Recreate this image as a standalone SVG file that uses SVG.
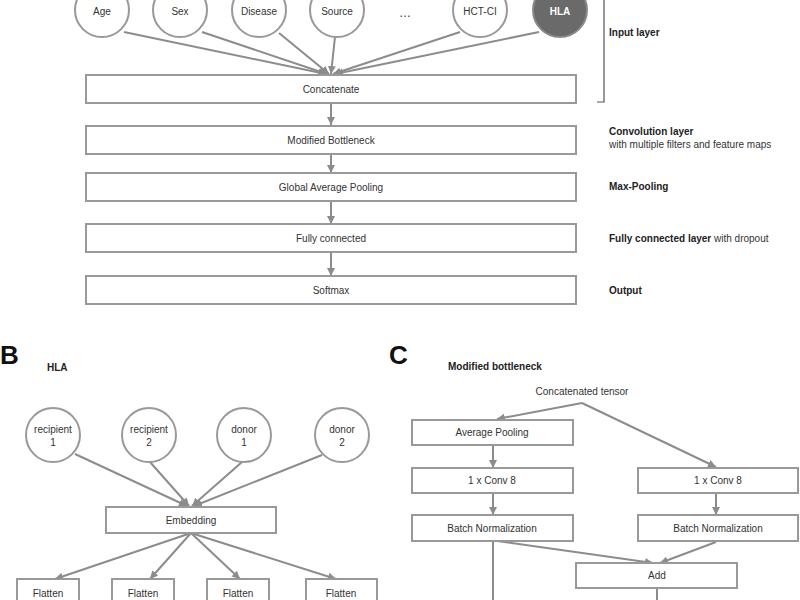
<svg xmlns="http://www.w3.org/2000/svg" width="800" height="600" viewBox="0 0 800 600">
<style>
text{font-family:"Liberation Sans",Arial,sans-serif;fill:#333;}
.lbl{font-size:10px;text-anchor:middle;}
.side{font-size:10px;}
.b{font-weight:bold;fill:#222;}
.big{font-size:26px;font-weight:bold;fill:#111;}
.box{fill:#fff;stroke:#999;stroke-width:2;}
.node{fill:#fff;stroke:#999;stroke-width:2;}
.con line{stroke:#8c8c8c;stroke-width:2;fill:none;}
.arr{marker-end:url(#ah);}
</style>
<defs>
<marker id="ah" markerUnits="userSpaceOnUse" markerWidth="9" markerHeight="9" refX="8" refY="4" orient="auto">
<path d="M0,0 L8,4 L0,8 z" fill="#8c8c8c"/>
</marker>
</defs>
<rect width="800" height="600" fill="#fff"/>

<!-- Connectors -->
<g id="connectors" class="con">
<line class="arr" x1="124" y1="32" x2="326" y2="74"/>
<line class="arr" x1="202" y1="32" x2="327" y2="74"/>
<line class="arr" x1="279" y1="33" x2="329" y2="74"/>
<line class="arr" x1="335" y1="37" x2="331" y2="74"/>
<line class="arr" x1="460" y1="32" x2="333" y2="74"/>
<line class="arr" x1="539" y1="32" x2="335" y2="74"/>
<line class="arr" x1="331" y1="103" x2="331" y2="125"/>
<line class="arr" x1="331" y1="154" x2="331" y2="173"/>
<line class="arr" x1="331" y1="202" x2="331" y2="224"/>
<line class="arr" x1="331" y1="253" x2="331" y2="276"/>
<!-- B -->
<line class="arr" x1="75" y1="454" x2="187" y2="506"/>
<line class="arr" x1="150" y1="462" x2="189" y2="506"/>
<line class="arr" x1="242" y1="462" x2="192" y2="506"/>
<line class="arr" x1="322" y1="455" x2="194" y2="506"/>
<line class="arr" x1="191" y1="533" x2="55" y2="579"/>
<line class="arr" x1="191" y1="533" x2="150" y2="579"/>
<line class="arr" x1="191" y1="533" x2="240" y2="579"/>
<line class="arr" x1="191" y1="533" x2="336" y2="579"/>
<!-- C -->
<line class="arr" x1="582" y1="403" x2="497" y2="419"/>
<line class="arr" x1="582" y1="403" x2="716" y2="467"/>
<line class="arr" x1="493" y1="446" x2="493" y2="468"/>
<line class="arr" x1="493" y1="494" x2="493" y2="515"/>
<line class="arr" x1="716" y1="494" x2="716" y2="515"/>
<line x1="493" y1="542" x2="493" y2="600"/>
<line class="arr" x1="497" y1="541" x2="653" y2="563"/>
<line class="arr" x1="716" y1="542" x2="660" y2="563"/>
<line x1="657" y1="589" x2="657" y2="600"/>
</g>

<!-- A: input nodes -->
<g id="n-age"><circle class="node" cx="102" cy="10" r="27"/><text class="lbl" x="102" y="15">Age</text></g>
<g id="n-sex"><circle class="node" cx="180" cy="10" r="27"/><text class="lbl" x="180" y="15">Sex</text></g>
<g id="n-disease"><circle class="node" cx="259" cy="10" r="27"/><text class="lbl" x="259" y="15">Disease</text></g>
<g id="n-source"><circle class="node" cx="337" cy="10" r="27"/><text class="lbl" x="337" y="15">Source</text></g>
<g id="n-dots"><text class="lbl" x="405" y="17" style="font-size:12px">…</text></g>
<g id="n-hctci"><circle class="node" cx="480" cy="10" r="27"/><text class="lbl" x="480" y="15">HCT-CI</text></g>
<g id="n-hla"><circle cx="560" cy="10" r="27" fill="#6a6a6a" stroke="#8a8a8a" stroke-width="2"/><text class="lbl b" x="560" y="15" style="fill:#fff">HLA</text></g>

<g id="n-concat"><rect class="box" x="86" y="75" width="490" height="28"/><text class="lbl" x="331" y="93">Concatenate</text></g>
<g id="n-bottleneck"><rect class="box" x="86" y="126" width="490" height="28"/><text class="lbl" x="331" y="144">Modified Bottleneck</text></g>
<g id="n-gap"><rect class="box" x="86" y="173" width="490" height="28"/><text class="lbl" x="331" y="191">Global Average Pooling</text></g>
<g id="n-fc"><rect class="box" x="86" y="224" width="490" height="28"/><text class="lbl" x="331" y="242">Fully connected</text></g>
<g id="n-softmax"><rect class="box" x="86" y="276" width="490" height="28"/><text class="lbl" x="331" y="294">Softmax</text></g>

<g id="bracket"><polyline points="597,102 604,102 604,0" fill="none" stroke="#555" stroke-width="1.2"/></g>
<g id="side-labels">
<text class="side b" x="609" y="36">Input layer</text>
<text class="side b" x="609" y="135">Convolution layer</text>
<text class="side" x="609" y="148">with multiple filters and feature maps</text>
<text class="side b" x="609" y="190">Max-Pooling</text>
<text class="side" x="609" y="242"><tspan class="b">Fully connected layer</tspan> with dropout</text>
<text class="side b" x="609" y="294">Output</text>
</g>

<!-- B -->
<text class="big" x="0" y="364">B</text>
<text class="side b" x="47" y="371">HLA</text>
<g id="n-r1"><circle class="node" cx="53" cy="435" r="27"/><text class="lbl" x="53" y="433">recipient</text><text class="lbl" x="53" y="446">1</text></g>
<g id="n-r2"><circle class="node" cx="149" cy="435" r="27"/><text class="lbl" x="149" y="433">recipient</text><text class="lbl" x="149" y="446">2</text></g>
<g id="n-d1"><circle class="node" cx="244" cy="435" r="27"/><text class="lbl" x="244" y="433">donor</text><text class="lbl" x="244" y="446">1</text></g>
<g id="n-d2"><circle class="node" cx="342" cy="435" r="27"/><text class="lbl" x="342" y="433">donor</text><text class="lbl" x="342" y="446">2</text></g>
<g id="n-embed"><rect class="box" x="106" y="507" width="170" height="26"/><text class="lbl" x="191" y="524">Embedding</text></g>
<g id="n-f1"><rect class="box" x="17" y="579" width="62" height="30"/><text class="lbl" x="48" y="597">Flatten</text></g>
<g id="n-f2"><rect class="box" x="112" y="579" width="62" height="30"/><text class="lbl" x="143" y="597">Flatten</text></g>
<g id="n-f3"><rect class="box" x="207" y="579" width="62" height="30"/><text class="lbl" x="238" y="597">Flatten</text></g>
<g id="n-f4"><rect class="box" x="306" y="579" width="71" height="30"/><text class="lbl" x="341" y="597">Flatten</text></g>

<!-- C -->
<text class="big" x="389" y="364">C</text>
<text class="side b" x="448" y="370">Modified bottleneck</text>
<g id="n-tensor"><text class="lbl" x="582" y="395">Concatenated tensor</text></g>
<g id="n-avgpool"><rect class="box" x="412" y="420" width="161" height="25"/><text class="lbl" x="492" y="436">Average Pooling</text></g>
<g id="n-conv-l"><rect class="box" x="412" y="468" width="161" height="25"/><text class="lbl" x="492" y="484">1 x Conv 8</text></g>
<g id="n-bn-l"><rect class="box" x="412" y="515" width="161" height="26"/><text class="lbl" x="492" y="532">Batch Normalization</text></g>
<g id="n-conv-r"><rect class="box" x="638" y="468" width="160" height="25"/><text class="lbl" x="718" y="484">1 x Conv 8</text></g>
<g id="n-bn-r"><rect class="box" x="638" y="515" width="160" height="26"/><text class="lbl" x="718" y="532">Batch Normalization</text></g>
<g id="n-add"><rect class="box" x="576" y="563" width="161" height="25"/><text class="lbl" x="657" y="579">Add</text></g>
</svg>
